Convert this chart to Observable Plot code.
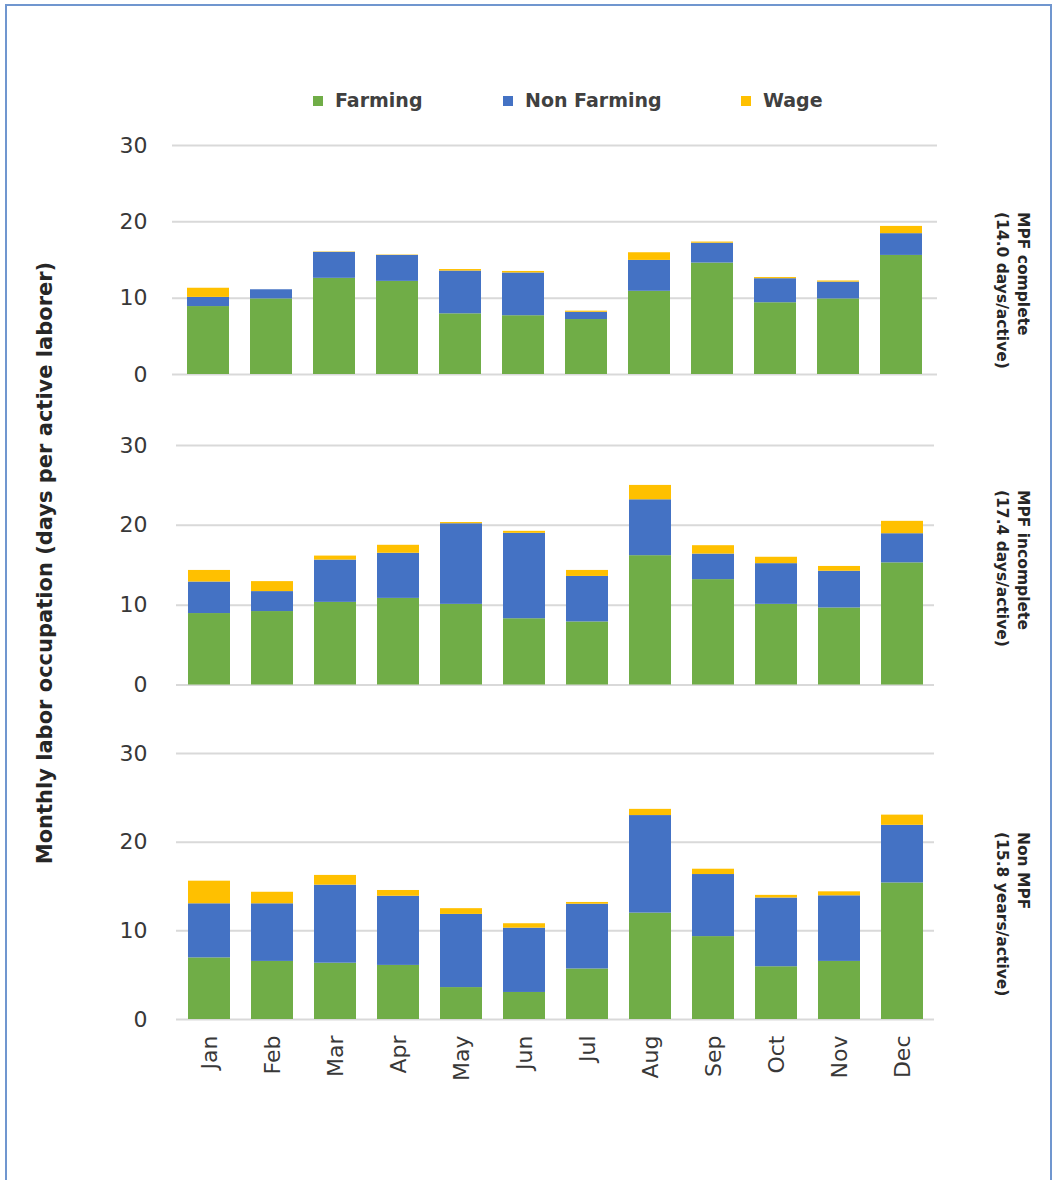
<!DOCTYPE html>
<html>
<head>
<meta charset="utf-8">
<script src="https://cdn.jsdelivr.net/npm/d3@7"></script>
<script src="https://cdn.jsdelivr.net/npm/@observablehq/plot@0.6"></script>
<style>
  body { margin: 0; background: #fff; }
  #wrap { position: relative; width: 1056px; height: 1180px; overflow: hidden; font-family: "DejaVu Sans", sans-serif; background: #fff; }
  #frame { position: absolute; left: 5px; top: 4px; width: 1047px; height: 1220px; border: 2px solid #7096cf; box-sizing: border-box; }
  .plot { position: absolute; left: 0; }
  .leg { position: absolute; top: 88px; font-size: 19px; font-weight: bold; color: #404040; white-space: nowrap; line-height: 24px; }
  .sw { display: inline-block; width: 10px; height: 10px; margin-right: 12px; vertical-align: 1px; }
  #ytitle { position: absolute; left: 45px; top: 563px; transform: translate(-50%, -50%) rotate(-90deg); font-size: 21px; font-weight: bold; color: #262626; white-space: nowrap; }
  .facet { position: absolute; left: 1033px; transform-origin: 0 0; transform: rotate(90deg); font-size: 15.5px; font-weight: bold; color: #262626; white-space: nowrap; line-height: 21px; }
</style>
</head>
<body>
<div id="wrap">
  <div id="frame"></div>
  <div id="ytitle">Monthly labor occupation (days per active laborer)</div>
</div>
<script>
const months = ["Jan", "Feb", "Mar", "Apr", "May", "Jun", "Jul", "Aug", "Sep", "Oct", "Nov", "Dec"];
const series = ["Farming", "Non Farming", "Wage"];
const colors = ["#70ad47", "#4472c4", "#ffc000"];
const panelNames = ["MPF complete", "MPF incomplete", "Non MPF"];
const panelNotes = ["(14.0 days/active)", "(17.4 days/active)", "(15.8 years/active)"];
const yTicks = [0, 10, 20, 30];

// Panel 1: MPF complete
const farming1    = [8.9, 9.9, 12.6, 12.2, 7.95, 7.7, 7.2, 10.9, 14.6, 9.4, 9.9, 15.6];
const nonFarming1 = [1.2, 1.2, 3.4, 3.4, 5.6, 5.6, 0.95, 4.05, 2.6, 3.15, 2.2, 2.85];
const wage1       = [1.2, 0.0, 0.05, 0.05, 0.2, 0.2, 0.15, 1.0, 0.15, 0.15, 0.15, 0.95];

// Panel 2: MPF incomplete
const farming2    = [8.95, 9.2, 10.35, 10.85, 10.1, 8.3, 7.9, 16.2, 13.2, 10.1, 9.65, 15.3];
const nonFarming2 = [3.95, 2.5, 5.3, 5.65, 10.1, 10.7, 5.7, 7.0, 3.2, 5.1, 4.6, 3.65];
const wage2       = [1.45, 1.25, 0.5, 1.0, 0.15, 0.25, 0.75, 1.8, 1.05, 0.8, 0.6, 1.55];

// Panel 3: Non MPF
const farming3    = [6.95, 6.55, 6.35, 6.1, 3.6, 3.05, 5.7, 12.0, 9.35, 5.95, 6.55, 15.4];
const nonFarming3 = [6.1, 6.5, 8.8, 7.8, 8.25, 7.25, 7.3, 11.0, 7.0, 7.75, 7.4, 6.5];
const wage3       = [2.55, 1.3, 1.1, 0.65, 0.65, 0.5, 0.2, 0.7, 0.6, 0.3, 0.45, 1.15];

const panelValues = [
  [farming1, nonFarming1, wage1],
  [farming2, nonFarming2, wage2],
  [farming3, nonFarming3, wage3]
];

const layout = [
  {top: 120, height: 264, mt: 25, mb: 10, ml: 172, mr: 119, xaxis: false, pad: 25, facetTop: 212},
  {top: 420, height: 275, mt: 25, mb: 10.5, ml: 176, mr: 122, xaxis: false, pad: 29, facetTop: 490},
  {top: 728, height: 371, mt: 25, mb: 80, ml: 176, mr: 122, xaxis: true, pad: 29, facetTop: 832}
];

const wrap = document.getElementById("wrap");

// Legend
const legendX = [313, 503, 741];
series.forEach((s, k) => {
  const d = document.createElement("div");
  d.className = "leg";
  d.style.left = legendX[k] + "px";
  d.innerHTML = `<span class="sw" style="background:${colors[k]}"></span>${s}`;
  wrap.appendChild(d);
});

panelValues.forEach((vals, i) => {
  const L = layout[i];
  const rows = [];
  months.forEach((m, j) => {
    series.forEach((s, k) => rows.push({month: m, series: s, value: vals[k][j]}));
  });
  const chart = Plot.plot({
    width: 1056,
    height: L.height,
    marginTop: L.mt,
    marginBottom: L.mb,
    marginLeft: L.ml,
    marginRight: L.mr,
    style: {fontFamily: "DejaVu Sans, sans-serif", fontSize: "22px", color: "#383838", background: "transparent", overflow: "visible"},
    x: {domain: months, paddingInner: 0.34, paddingOuter: 0.17, axis: null},
    y: {domain: [0, 30], axis: null},
    color: {domain: series, range: colors},
    marks: [
      Plot.gridY(yTicks, {stroke: "#d9d9d9", strokeOpacity: 1, strokeWidth: 2}),
      Plot.barY(rows, {x: "month", y: "value", fill: "series"}),
      Plot.axisY(yTicks, {tickSize: 0, tickPadding: L.pad, fontSize: 22, label: null, tickFormat: d => String(d)}),
      L.xaxis ? Plot.axisX({tickRotate: -90, tickSize: 0, tickPadding: 16, fontSize: 22, label: null}) : null
    ]
  });
  chart.classList.add("plot");
  chart.style.top = L.top + "px";
  wrap.appendChild(chart);

  const f = document.createElement("div");
  f.className = "facet";
  f.style.top = L.facetTop + "px";
  f.innerHTML = `${panelNames[i]}<br>${panelNotes[i]}`;
  wrap.appendChild(f);
});
</script>
</body>
</html>
